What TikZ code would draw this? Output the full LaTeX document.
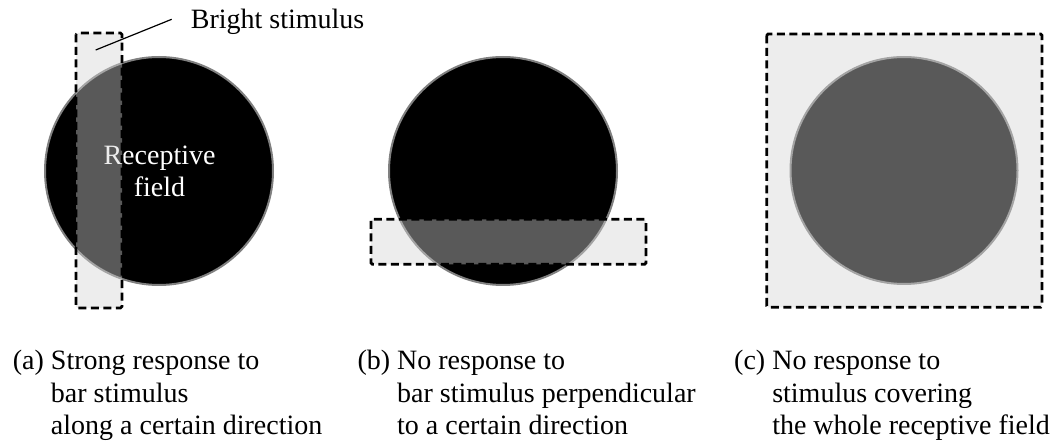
\documentclass[tikz,border=0pt]{standalone}
\usepackage{fontspec}
\setmainfont{Liberation Serif}
\definecolor{rimgray}{RGB}{128,128,128}
\definecolor{stimgray}{RGB}{214,214,214}
\tikzset{
  field/.style={fill=black, draw=rimgray, line width=2pt},
  stimbox/.style={fill=stimgray, fill opacity=0.42, draw=black, draw opacity=1,
    line width=2.8pt, dash pattern=on 8pt off 4.5pt, rounded corners=1.5pt},
  lbl/.style={inner sep=0pt, font=\fontsize{28}{32.5}\selectfont},
}
\begin{document}
\begin{tikzpicture}[x=1pt, y=-1pt]
\fill[white] (0,0) rectangle (1062,443);
\useasboundingbox (0,0) rectangle (1062,443);

% (a)
\node[field, circle, minimum size=228pt, inner sep=0pt] (fa) at (159,171) {};
\node[lbl, text=white, anchor=base] (rf) at (159.5,164.3)
  {\begin{tabular}[t]{@{}c@{}}Receptive\\field\end{tabular}};
\draw[stimbox] (76,33) rectangle (122,308);
\node[lbl, anchor=base west] (bright) at (190.7,29) {Bright stimulus};
\coordinate (lp1) at (95.7,50);
\coordinate (lp2) at (171.7,19.3);
\draw[line width=1.2pt] (lp1) -- (lp2);

% (b)
\node[field, circle, minimum size=228pt, inner sep=0pt] (fb) at (503,171) {};
\draw[stimbox] (371,219.3) rectangle (646,264.3);

% (c)
\node[field, circle, minimum size=227pt, inner sep=0pt] (fc) at (904,170.5) {};
\draw[stimbox] (766.7,34) rectangle (1042,307.3);

% captions
\node[lbl, anchor=base west] (ca) at (12.7,369.5)
  {\begin{tabular}[t]{@{}l@{ }l@{}}(a)&Strong response to\\&bar stimulus\\&along a certain direction\end{tabular}};
\node[lbl, anchor=base west] (cb) at (357.3,369.5)
  {\begin{tabular}[t]{@{}l@{ }l@{}}(b)&No response to\\&bar stimulus perpendicular\\&to a certain direction\end{tabular}};
\node[lbl, anchor=base west] (cc) at (734,369.5)
  {\begin{tabular}[t]{@{}l@{ }l@{}}(c)&No response to\\&stimulus covering\\&the whole receptive field\end{tabular}};
\end{tikzpicture}
\end{document}
